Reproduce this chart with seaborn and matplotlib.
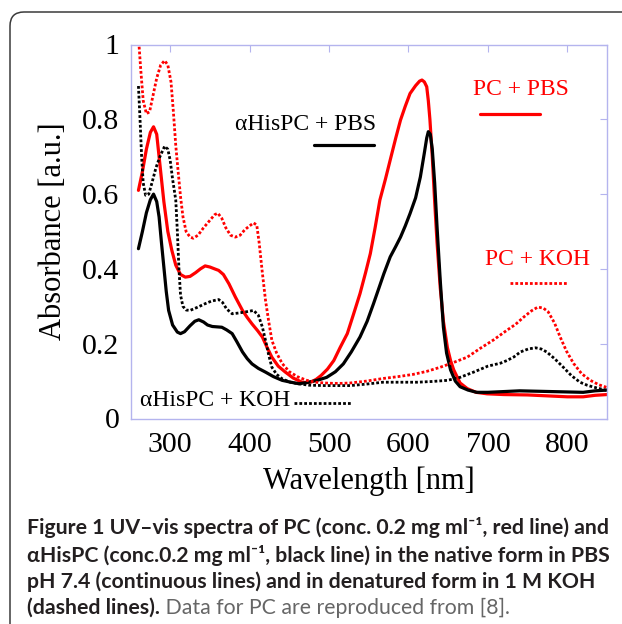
import numpy as np
import pandas as pd
import matplotlib
matplotlib.use("Agg")
import matplotlib.pyplot as plt
import seaborn as sns
from matplotlib.patches import FancyBboxPatch
from matplotlib.transforms import IdentityTransform
from matplotlib.lines import Line2D

# ---------------- data ----------------
pc_pbs_wl = [260, 265, 270, 275, 279, 283, 287, 292, 297, 302, 307, 313, 319, 325, 332, 338, 344, 350,
             356, 361, 367, 374, 382, 391, 397, 403, 410, 416, 422, 428, 436, 445, 455, 466, 472, 478,
             484, 490, 498, 506, 514, 523, 531, 539, 546, 552, 558, 564, 571, 577, 584, 590, 596, 602,
             609, 614, 617, 620, 623, 625, 627, 630, 633, 636, 640, 644, 649, 653, 657, 665, 674, 685,
             699, 720, 750, 780, 800, 820, 835, 850]
pc_pbs_abs = [0.61, 0.66, 0.72, 0.765, 0.78, 0.76, 0.68, 0.58, 0.50, 0.45, 0.41, 0.385, 0.378, 0.38,
              0.39, 0.40, 0.408, 0.405, 0.40, 0.396, 0.385, 0.36, 0.325, 0.289, 0.27, 0.253, 0.235,
              0.218, 0.19, 0.164, 0.14, 0.124, 0.108, 0.097, 0.096, 0.098, 0.105, 0.115, 0.132, 0.155,
              0.19, 0.227, 0.28, 0.334, 0.39, 0.441, 0.51, 0.584, 0.64, 0.691, 0.75, 0.798, 0.835,
              0.869, 0.89, 0.902, 0.905, 0.90, 0.887, 0.85, 0.80, 0.70, 0.58, 0.47, 0.35, 0.26, 0.19,
              0.155, 0.13, 0.095, 0.08, 0.07, 0.066, 0.064, 0.063, 0.060, 0.058, 0.058, 0.062, 0.064]

his_pbs_wl = [260, 265, 270, 275, 279, 283, 286, 289, 292, 295, 298, 303, 309, 313, 318, 325, 331, 336,
              342, 347, 353, 359, 365, 371, 378, 384, 391, 397, 403, 411, 420, 430, 441, 452, 462, 472,
              485, 497, 508, 518, 528, 539, 548, 556, 563, 569, 577, 584, 590, 596, 602, 609, 615, 620,
              623, 625, 627.5, 630, 633, 636, 640, 644, 648, 653, 659, 665, 675, 686, 700, 720, 740,
              760, 780, 800, 820, 835, 850]
his_pbs_abs = [0.454, 0.50, 0.55, 0.585, 0.60, 0.58, 0.539, 0.47, 0.405, 0.34, 0.289, 0.25, 0.231, 0.227,
               0.232, 0.248, 0.26, 0.264, 0.258, 0.25, 0.246, 0.245, 0.244, 0.237, 0.227, 0.205, 0.178,
               0.16, 0.146, 0.134, 0.124, 0.112, 0.102, 0.097, 0.093, 0.096, 0.102, 0.11, 0.125, 0.146,
               0.178, 0.218, 0.26, 0.307, 0.35, 0.387, 0.432, 0.46, 0.485, 0.515, 0.548, 0.59, 0.646,
               0.71, 0.75, 0.767, 0.76, 0.72, 0.63, 0.512, 0.37, 0.244, 0.175, 0.13, 0.10, 0.085, 0.076,
               0.07, 0.07, 0.072, 0.074, 0.073, 0.072, 0.071, 0.07, 0.074, 0.076]

pc_koh_wl = [260, 263, 266, 270, 274, 278, 283, 288, 293, 297, 301, 304, 307, 310, 313, 316, 320, 325,
             329, 335, 342, 350, 356, 360, 365, 370, 376, 382, 388, 394, 400, 405, 409, 412, 416, 420,
             424, 428, 434, 441, 450, 461, 472, 483, 494, 505, 516, 527, 547, 568, 587, 606, 623, 640,
             657, 674, 690, 707, 724, 735, 745, 755, 763, 770, 776, 784, 791, 799, 808, 818, 829, 840,
             850]
pc_koh_abs = [1.02, 0.93, 0.85, 0.815, 0.82, 0.86, 0.91, 0.945, 0.957, 0.945, 0.90, 0.82, 0.73, 0.66,
              0.593, 0.54, 0.50, 0.485, 0.482, 0.49, 0.51, 0.53, 0.545, 0.549, 0.535, 0.51, 0.49, 0.485,
              0.49, 0.505, 0.515, 0.523, 0.517, 0.47, 0.39, 0.316, 0.26, 0.209, 0.175, 0.147, 0.125,
              0.111, 0.102, 0.097, 0.095, 0.094, 0.094, 0.095, 0.100, 0.107, 0.112, 0.118, 0.126,
              0.137, 0.15, 0.164, 0.187, 0.21, 0.236, 0.252, 0.271, 0.288, 0.298, 0.295, 0.285, 0.255,
              0.218, 0.18, 0.147, 0.12, 0.102, 0.09, 0.083]

his_koh_wl = [260, 262, 264, 266, 269, 273, 277, 282, 287, 293, 297, 300, 303, 307, 309, 311, 313, 316,
              320, 325, 335, 344, 352, 361, 366, 371, 378, 386, 395, 405, 411, 416, 420, 424, 428, 434,
              441, 451, 461, 475, 495, 527, 547, 568, 590, 611, 630, 649, 665, 682, 700, 716, 724, 733,
              741, 751, 760, 767, 774, 784, 795, 805, 816, 825, 833, 850]
his_koh_abs = [0.889, 0.80, 0.70, 0.63, 0.597, 0.60, 0.63, 0.67, 0.70, 0.728, 0.72, 0.69, 0.64, 0.584,
               0.50, 0.40, 0.33, 0.30, 0.29, 0.289, 0.298, 0.307, 0.314, 0.318, 0.31, 0.293, 0.28,
               0.282, 0.285, 0.289, 0.276, 0.245, 0.209, 0.17, 0.137, 0.118, 0.106, 0.097, 0.093,
               0.089, 0.088, 0.088, 0.092, 0.097, 0.097, 0.097, 0.099, 0.102, 0.11, 0.124, 0.14, 0.148,
               0.155, 0.165, 0.178, 0.186, 0.189, 0.186, 0.178, 0.16, 0.137, 0.115, 0.097, 0.089,
               0.084, 0.075]

x_ticks = [300, 400, 500, 600, 700, 800]
x_tick_labels = ["300", "400", "500", "600", "700", "800"]
y_ticks = [0, 0.2, 0.4, 0.6, 0.8, 1.0]
y_tick_labels = ["0", "0.2", "0.4", "0.6", "0.8", "1"]

caption_bold = [
    "Figure 1 UV\u2013vis spectra of PC (conc. 0.2 mg ml\u207b\u00b9, red line) and",
    "\u03b1HisPC (conc.0.2 mg ml\u207b\u00b9, black line) in the native form in PBS",
    "pH 7.4 (continuous lines) and in denatured form in 1 M KOH",
    "(dashed lines).",
]
caption_regular = " Data for PC are reproduced from [8]."

# ---------------- style ----------------
sns.set_theme(style="white")
plt.rcParams["font.family"] = ["Liberation Serif", "DejaVu Serif"]
RED = "#ff0000"
BLACK = "#000000"
SPINE = "#b4b4ee"
DOT = (0, (1.0, 0.75))

W, H = 622, 624
fig = plt.figure(figsize=(W / 100, H / 100), dpi=100)
fig.patch.set_facecolor("white")

# rounded frame around the figure
frame = FancyBboxPatch((10, -60), 760, H - 12 + 60, boxstyle="round,pad=0,rounding_size=14",
                       transform=IdentityTransform(), facecolor="none", edgecolor="#3a3a3a",
                       linewidth=1.1, zorder=0)
fig.patches.append(frame)

L, R, T, B = 130.5, 607, 44.5, 418.5
ax = fig.add_axes([L / W, (H - B) / H, (R - L) / W, (B - T) / H])
ax.set_facecolor("white")

series = [
    (pc_pbs_wl, pc_pbs_abs, RED, "-", 2.3),
    (his_pbs_wl, his_pbs_abs, BLACK, "-", 2.3),
    (pc_koh_wl, pc_koh_abs, RED, DOT, 2.0),
    (his_koh_wl, his_koh_abs, BLACK, DOT, 2.0),
]
for wl, ab, col, ls, lw in series:
    sns.lineplot(x=np.array(wl), y=np.array(ab), ax=ax, color=col, linestyle=ls, linewidth=lw,
                 estimator=None, sort=False, legend=False)

ax.set_xlim(250, 850)
ax.set_ylim(0, 1)
ax.set_xticks(x_ticks)
ax.set_xticklabels(x_tick_labels)
ax.set_yticks(y_ticks)
ax.set_yticklabels(y_tick_labels)
for s in ax.spines.values():
    s.set_color(SPINE)
    s.set_linewidth(1.0)
ax.tick_params(axis="both", direction="in", length=5, width=0.8, color=SPINE,
               top=True, right=True, labelsize=21.5, labelcolor="black")
ax.tick_params(axis="x", pad=10)
ax.tick_params(axis="y", pad=8)
ax.set_xlabel("Wavelength [nm]", fontsize=22, labelpad=6, color="black")
ax.set_ylabel("Absorbance [a.u.]", fontsize=22, labelpad=10, color="black")

# in-plot labels with their line keys
ax.text(471, 0.787, "\u03b1HisPC + PBS", fontsize=17, color=BLACK, ha="center", va="center")
ax.add_line(Line2D([481, 556], [0.731, 0.731], color=BLACK, lw=2.3))
ax.text(742, 0.88, "PC + PBS", fontsize=17, color=RED, ha="center", va="center")
ax.add_line(Line2D([690, 766], [0.814, 0.814], color=RED, lw=2.3))
ax.text(763, 0.425, "PC + KOH", fontsize=17, color=RED, ha="center", va="center")
ax.add_line(Line2D([728, 801], [0.362, 0.362], color=RED, lw=2.0, linestyle=DOT))
ax.text(356, 0.048, "\u03b1HisPC + KOH", fontsize=17, color=BLACK, ha="center", va="center")
ax.add_line(Line2D([456, 528], [0.042, 0.042], color=BLACK, lw=2.0, linestyle=DOT))

# caption
cap_fam = ["Lato", "DejaVu Sans"]
line_y = [528, 555, 582, 608]
x0 = 27 / W
fs = 13
texts = []
for i in range(4):
    texts.append(fig.text(x0, 1 - line_y[i] / H, caption_bold[i], fontsize=fs, family=cap_fam,
                          fontweight="bold", color="#231f20", va="center", ha="left"))
fig.canvas.draw()
rend = fig.canvas.get_renderer()
wmax = max(t.get_window_extent(rend).width for t in texts[:2])
fs = fs * 583 / wmax
for t in texts:
    t.set_fontsize(fs)
fig.canvas.draw()
ext = texts[3].get_window_extent(rend)
fig.text(ext.x1 / W, 1 - line_y[3] / H, caption_regular, fontsize=fs, family=cap_fam,
         fontweight="normal", color="#666666", va="center", ha="left")

fig.savefig("out.png", dpi=100, facecolor="white")
